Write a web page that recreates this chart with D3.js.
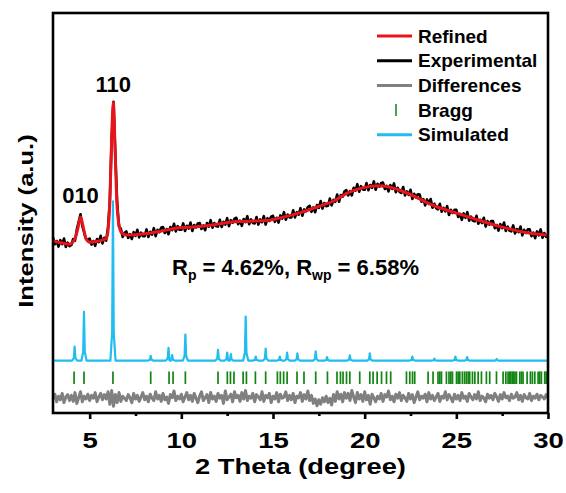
<!DOCTYPE html>
<html>
<head>
<meta charset="utf-8">
<script src="https://cdn.jsdelivr.net/npm/d3@7/dist/d3.min.js"></script>
<style>
body { margin: 0; background: #fff; }
text { font-family: "Liberation Sans", Arial, sans-serif; font-weight: bold; fill: #000; }
</style>
</head>
<body>
<script>
// set the dimensions and margins of the graph
var margin = {top: 13, right: 18, bottom: 80, left: 53};
var width = 566 - margin.left - margin.right;
var height = 493 - margin.top - margin.bottom;

// experimental pattern, one value every 0.1 degree from 3 to 30
var expStart = 3;
var expStep = 0.1;
var experimental = [
    43.9, 42.2, 43.0, 41.6, 43.2, 42.2, 43.6, 41.5, 42.6, 41.7,
    42.0, 43.5, 43.1, 45.9, 47.8, 49.7, 46.7, 45.1, 43.5, 43.4,
    43.6, 42.1, 43.0, 41.8, 43.5, 42.7, 44.3, 42.4, 43.8, 43.1,
    46.4, 53.0, 68.6, 77.8, 64.5, 52.7, 46.6, 46.1, 44.0, 45.0,
    45.4, 43.8, 44.7, 43.5, 45.2, 44.3, 45.8, 43.9, 45.1, 44.2,
    44.2, 45.9, 44.0, 45.3, 44.6, 46.2, 44.2, 45.8, 45.2, 46.3,
    46.5, 45.0, 46.0, 44.7, 46.5, 45.7, 47.3, 45.4, 46.7, 45.8,
    45.8, 47.4, 45.5, 46.8, 46.1, 47.6, 45.5, 47.0, 46.4, 47.4,
    47.5, 46.0, 46.9, 45.7, 47.5, 46.6, 48.2, 46.3, 47.5, 46.7,
    46.6, 48.3, 46.5, 47.8, 47.1, 48.7, 46.7, 48.2, 47.6, 48.6,
    48.8, 47.2, 48.1, 46.8, 48.5, 47.7, 49.2, 47.2, 48.4, 47.5,
    47.4, 49.0, 47.1, 48.4, 47.7, 49.2, 47.1, 48.7, 48.0, 49.1,
    49.3, 47.8, 48.8, 47.6, 49.4, 48.6, 50.2, 48.3, 49.6, 48.9,
    48.9, 50.7, 48.9, 50.2, 49.6, 51.2, 49.3, 50.9, 50.4, 51.5,
    51.8, 50.3, 51.4, 50.2, 52.0, 51.3, 53.0, 51.1, 52.5, 51.7,
    51.8, 53.6, 51.9, 53.3, 52.8, 54.6, 52.8, 54.5, 54.1, 55.4,
    55.7, 54.4, 55.5, 54.4, 56.3, 55.6, 57.2, 55.3, 56.7, 55.9,
    55.8, 57.5, 55.7, 57.0, 56.3, 57.9, 55.8, 57.3, 56.6, 57.5,
    57.6, 56.0, 56.8, 55.4, 57.0, 56.0, 57.4, 55.2, 56.3, 55.3,
    55.0, 56.5, 54.4, 55.4, 54.5, 55.8, 53.5, 54.8, 53.9, 54.7,
    54.6, 52.8, 53.5, 51.9, 53.4, 52.3, 53.5, 51.3, 52.3, 51.2,
    50.9, 52.3, 50.3, 51.3, 50.4, 51.7, 49.5, 50.8, 50.0, 50.8,
    50.8, 49.0, 49.8, 48.3, 49.9, 48.8, 50.2, 48.1, 49.1, 48.1,
    47.9, 49.3, 47.3, 48.3, 47.5, 48.8, 46.6, 48.0, 47.1, 48.0,
    48.0, 46.2, 47.0, 45.6, 47.2, 46.2, 47.6, 45.5, 46.6, 45.6,
    45.4, 46.9, 44.9, 46.0, 45.2, 46.6, 44.4, 45.8, 45.0, 45.9,
    45.9, 44.2, 45.1, 43.7, 45.4, 44.4, 45.9, 43.8, 45.0, 44.0,
    44.5
];

// differences (obs - calc), shifted down to the bottom of the frame
var differences = [
    3.5, 4.7, 2.8, 4.2, 3.3, 4.9, 2.6, 4.0, 4.6, 3.1,
    4.4, 2.9, 5.1, 2.4, 3.8, 5.3, 2.8, 4.2, 3.5, 4.7,
    3.1, 4.4, 3.7, 5.1, 2.8, 4.0, 4.9, 3.3, 4.6, 3.5,
    5.3, 2.2, 5.6, 1.7, 4.6, 2.6, 5.1, 2.9, 4.2, 3.7,
    3.1, 4.6, 3.8, 2.6, 4.9, 3.5, 4.4, 2.9, 4.0, 5.1,
    3.3, 4.2, 2.8, 4.7, 3.7, 3.1, 5.3, 3.5, 4.4, 2.9,
    4.9, 3.3, 4.0, 2.4, 4.6, 3.8, 5.5, 3.1, 4.2, 3.5,
    4.7, 2.8, 4.0, 5.1, 3.3, 4.4, 2.9, 4.9, 3.7, 2.6,
    4.2, 5.3, 3.1, 3.8, 4.6, 2.6, 5.1, 3.5, 4.2, 2.9,
    4.9, 3.7, 4.4, 2.4, 5.5, 3.3, 4.0, 4.7, 2.8, 5.3,
    3.8, 4.4, 2.9, 5.1, 3.5, 5.6, 3.1, 4.2, 3.7, 4.9,
    2.8, 4.6, 4.0, 3.3, 5.3, 2.9, 4.4, 3.8, 4.9, 2.6,
    4.2, 3.5, 5.1, 2.8, 4.7, 3.7, 4.0, 5.3, 3.1, 4.4,
    3.3, 4.9, 2.6, 4.2, 3.8, 5.1, 2.9, 4.6, 3.5, 5.5,
    3.1, 4.4, 2.4, 3.5, 1.8, 3.3, 2.2, 3.8, 2.8, 4.2,
    2.6, 3.7, 2.0, 4.6, 2.9, 5.3, 3.5, 4.7, 2.8, 5.1,
    3.7, 4.9, 3.1, 5.6, 4.0, 2.6, 5.1, 3.5, 4.6, 2.9,
    5.3, 3.3, 4.4, 2.2, 4.7, 3.8, 2.8, 4.2, 3.5, 4.9,
    2.9, 4.6, 4.0, 5.5, 3.3, 4.2, 2.8, 4.7, 3.7, 5.1,
    3.1, 4.4, 3.8, 2.9, 4.9, 3.5, 4.6, 2.6, 4.0, 5.3,
    3.3, 4.2, 3.7, 4.7, 2.8, 5.1, 3.5, 4.4, 3.1, 4.0,
    4.9, 2.9, 4.2, 3.7, 5.3, 3.3, 4.6, 3.8, 2.8, 4.7,
    3.5, 4.4, 3.1, 5.1, 3.7, 4.2, 2.9, 4.9, 4.0, 3.3,
    4.6, 3.5, 5.3, 3.1, 4.2, 3.8, 2.8, 4.7, 3.7, 4.4,
    3.3, 4.9, 4.0, 2.9, 4.6, 3.5, 5.1, 3.8, 4.2, 3.1,
    4.7, 3.7, 4.0, 5.1, 3.3, 4.4, 2.9, 4.6, 3.8, 3.5,
    4.9, 3.1, 4.2, 3.7, 4.7, 3.3, 4.4, 4.0, 3.5, 4.6,
    3.8
];

// refined (calculated) profile, read at key points
var refinedX = [3.0, 3.5, 3.9, 4.2, 4.35, 4.5, 4.65, 4.8, 5.0, 5.5, 5.9, 6.0, 6.1, 6.2, 6.29, 6.38, 6.48, 6.6, 6.75, 7.0,
                8.0, 8.7, 9.9, 11.0, 12.1, 12.8, 14.65, 15.5, 16.5, 17.4, 18.3, 19.2, 20.0, 20.7, 21.2, 22.3, 23.7, 25.6, 27.4, 29.2, 30.0];
var refinedY = [43.0, 42.5, 42.2, 43.6, 46.0, 49.0, 46.5, 43.6, 42.7, 43.0, 43.6, 45.5, 53.0, 68.5, 77.6, 67.0, 53.0, 47.0, 45.0, 44.5,
                44.8, 45.3, 46.3, 46.6, 47.3, 47.8, 48.1, 48.9, 50.1, 51.5, 53.0, 55.3, 56.4, 56.8, 56.6, 55.0, 52.0, 49.1, 46.6, 44.8, 44.5];

// simulated pattern: baseline and peak list
var simBase = 13.1;
var simPos    = [4.18, 4.69, 6.27, 8.33, 9.30, 9.50, 10.22, 12.0, 12.5, 12.7, 13.51, 14.06, 14.6, 15.37, 15.77, 16.33, 17.33, 17.95, 19.19, 20.28, 22.6, 23.8, 24.95, 25.59, 27.2];
var simHeight = [3.5, 12.2, 39.8, 1.2, 3.2, 1.4, 6.5, 2.7, 2.0, 1.6, 11.0, 1.0, 3.0, 1.0, 2.0, 1.8, 2.3, 0.9, 1.3, 1.8, 1.0, 0.5, 1.0, 0.9, 0.4];

// Bragg reflection positions
var braggPos = [4.15, 4.69, 6.27, 8.33, 9.33, 9.55, 10.22, 12.0, 12.51, 12.68, 12.87, 13.37, 13.55, 14.04, 14.60, 15.24, 15.40, 15.58, 15.77,
                16.31, 16.69, 17.33, 17.97, 18.49, 18.68, 18.82, 19.01, 19.19, 19.73, 20.28, 20.46, 20.68, 20.92, 21.19, 21.42,
                22.28, 22.46, 22.61, 22.73, 23.46, 23.73, 24.00, 24.1, 24.19, 24.46, 24.60, 24.7, 24.79, 25.01, 25.1, 25.19, 25.33, 25.45,
                25.55, 25.65, 25.73, 25.88, 26.01, 26.19, 26.37, 26.64, 26.82, 27.19, 27.55, 27.70, 27.82, 27.9, 27.97, 28.05, 28.13,
                28.2, 28.28, 28.46, 28.55, 28.64, 28.86, 29.04, 29.15, 29.28, 29.46, 29.55, 29.64, 29.82, 29.9];
var braggLow = 7.25;
var braggHigh = 10.4;

var majorTicks = [5, 10, 15, 20, 25, 30];
var minorTicks = [7.5, 12.5, 17.5, 22.5, 27.5];

var legendNames = ["Refined", "Experimental", "Differences", "Bragg", "Simulated"];
var legendColors = ["#e8141b", "#000000", "#808080", "#128512", "#1fbdf0"];

// scales
var x = d3.scaleLinear().domain([3, 30]).range([0, width]);
var y = d3.scaleLinear().domain([0, 100]).range([height, 0]);

var root = d3.select("body").append("svg")
    .attr("width", width + margin.left + margin.right)
    .attr("height", height + margin.top + margin.bottom);

var svg = root.append("g")
    .attr("transform", "translate(" + margin.left + "," + margin.top + ")");

// differences
var gridLine = d3.line()
    .x(function(d, i) { return x(expStart + i * expStep); })
    .y(function(d) { return y(d); });

svg.append("path")
    .datum(differences)
    .attr("fill", "none")
    .attr("stroke", legendColors[2])
    .attr("stroke-width", 3)
    .attr("stroke-linejoin", "round")
    .attr("d", gridLine);

// bragg ticks
svg.selectAll(".bragg")
    .data(braggPos)
    .enter().append("line")
    .attr("class", "bragg")
    .attr("x1", function(d) { return x(d); })
    .attr("x2", function(d) { return x(d); })
    .attr("y1", y(braggLow))
    .attr("y2", y(braggHigh))
    .attr("stroke", legendColors[3])
    .attr("stroke-width", 1.7);

// simulated: each peak drawn as a narrow profile on the baseline
var simPoints = [[3, 0]];
var w = 0.14;
for (var i = 0; i < simPos.length; i++) {
    var p = simPos[i], h = simHeight[i];
    simPoints.push([p - w, 0]);
    simPoints.push([p - w * 0.3, h * 0.18]);
    simPoints.push([p, h]);
    simPoints.push([p + w * 0.3, h * 0.18]);
    simPoints.push([p + w, 0]);
}
simPoints.push([30, 0]);
simPoints.sort(function(a, b) { return a[0] - b[0]; });

svg.append("path")
    .datum(simPoints)
    .attr("fill", "none")
    .attr("stroke", legendColors[4])
    .attr("stroke-width", 2.2)
    .attr("stroke-linejoin", "round")
    .attr("d", d3.line()
        .x(function(d) { return x(d[0]); })
        .y(function(d) { return y(simBase + d[1]); }));

// experimental
svg.append("path")
    .datum(experimental)
    .attr("fill", "none")
    .attr("stroke", legendColors[1])
    .attr("stroke-width", 2.6)
    .attr("stroke-linejoin", "round")
    .attr("d", gridLine);

// refined
var refined = refinedX.map(function(v, i) { return [v, refinedY[i]]; });
svg.append("path")
    .datum(refined)
    .attr("fill", "none")
    .attr("stroke", legendColors[0])
    .attr("stroke-width", 3)
    .attr("d", d3.line()
        .curve(d3.curveMonotoneX)
        .x(function(d) { return x(d[0]); })
        .y(function(d) { return y(d[1]); }));

// frame
svg.append("rect")
    .attr("x", 0).attr("y", 0)
    .attr("width", width).attr("height", height)
    .attr("fill", "none")
    .attr("stroke", "#000")
    .attr("stroke-width", 2.6);

// x-axis, major and minor ticks
var xAxis = svg.append("g")
    .attr("transform", "translate(0," + height + ")")
    .call(d3.axisBottom(x).tickValues(majorTicks).tickSize(6).tickFormat(d3.format("d")));
xAxis.select(".domain").remove();
xAxis.selectAll("line").attr("stroke-width", 2.6);
xAxis.selectAll("text")
    .attr("y", 35)
    .attr("dy", null)
    .attr("transform", "scale(1.25,1)")
    .style("font-size", "22px")
    .style("font-family", "Liberation Sans, Arial, sans-serif")
    .style("font-weight", "bold")
    .attr("fill", "#000");

var xMinor = svg.append("g")
    .attr("transform", "translate(0," + height + ")")
    .call(d3.axisBottom(x).tickValues(minorTicks).tickSize(3).tickFormat(""));
xMinor.select(".domain").remove();
xMinor.selectAll("line").attr("stroke-width", 2.6);

// axis labels
svg.append("text")
    .attr("transform", "translate(" + (width / 2) + "," + (height + 61) + ") scale(1.27,1)")
    .attr("text-anchor", "middle")
    .style("font-size", "21.5px")
    .text("2 Theta (degree)");

svg.append("text")
    .attr("transform", "translate(-20.5," + (221 - margin.top) + ") rotate(-90) scale(1.28,1)")
    .attr("text-anchor", "middle")
    .style("font-size", "20px")
    .text("Intensity (a.u.)");

// peak labels
svg.append("text")
    .attr("x", x(6.29)).attr("y", 92 - margin.top)
    .attr("text-anchor", "middle")
    .style("font-size", "22px")
    .text("110");

svg.append("text")
    .attr("x", x(4.5)).attr("y", 203 - margin.top)
    .attr("text-anchor", "middle")
    .style("font-size", "22px")
    .text("010");

// R factors
var rText = svg.append("text")
    .attr("x", 172 - margin.left).attr("y", 275 - margin.top)
    .style("font-size", "22px");
rText.append("tspan").text("R");
rText.append("tspan").attr("dy", 5).style("font-size", "14px").text("p");
rText.append("tspan").attr("dy", -5).text(" = 4.62%, R");
rText.append("tspan").attr("dy", 5).style("font-size", "14px").text("wp");
rText.append("tspan").attr("dy", -5).text(" = 6.58%");

// legend
var legend = root.append("g");
var rowY = [36, 60.7, 85.4, 110.1, 134.8];
for (var k = 0; k < legendNames.length; k++) {
    if (legendNames[k] === "Bragg") {
        legend.append("line")
            .attr("x1", 396).attr("x2", 396)
            .attr("y1", rowY[k] - 6).attr("y2", rowY[k] + 6)
            .attr("stroke", legendColors[k])
            .attr("stroke-width", 1.5);
    } else {
        legend.append("line")
            .attr("x1", 377).attr("x2", 412)
            .attr("y1", rowY[k]).attr("y2", rowY[k])
            .attr("stroke", legendColors[k])
            .attr("stroke-width", 3);
    }
    legend.append("text")
        .attr("x", 418).attr("y", rowY[k] + 6.5)
        .style("font-size", "19px")
        .text(legendNames[k]);
}
</script>
</body>
</html>
